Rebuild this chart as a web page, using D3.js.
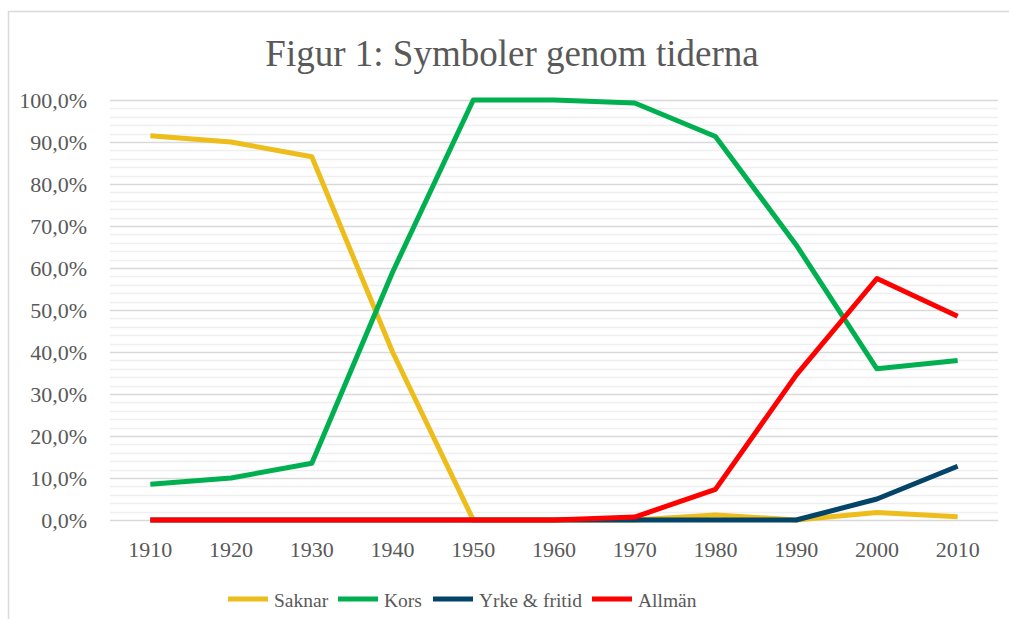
<!DOCTYPE html>
<html>
<head>
<meta charset="utf-8">
<script src="https://cdn.jsdelivr.net/npm/d3@7"></script>
<style>
  html, body { margin: 0; padding: 0; background: #fff; }
  svg { display: block; }
</style>
</head>
<body>
<div id="chart"></div>
<script>
const years = ["1910", "1920", "1930", "1940", "1950", "1960", "1970", "1980", "1990", "2000", "2010"];
const saknar = [91.5, 90.0, 86.5, 40.0, 0, 0, 0, 1.2, 0, 1.8, 0.8];
const kors = [8.5, 10.0, 13.5, 59.0, 100, 100, 99.3, 91.3, 65.5, 36.0, 38.0];
const yrke = [0, 0, 0, 0, 0, 0, 0, 0, 0, 5.0, 12.8];
const allman = [0, 0, 0, 0, 0, 0, 0.7, 7.3, 34.5, 57.5, 48.5];
const seriesNames = ["Saknar", "Kors", "Yrke & fritid", "Allmän"];
const seriesColors = ["#EDBD1C", "#00B050", "#034468", "#FF0000"];
const yTicks = [0, 10, 20, 30, 40, 50, 60, 70, 80, 90, 100];

const W = 1009, H = 619;
const m = { l: 110, r: 11, t: 100, b: 99 };
const serif = "'Liberation Serif', 'Times New Roman', serif";
const grey = "#595959";

const svg = d3.select("#chart").append("svg").attr("width", W).attr("height", H);

// outer chart frame
svg.append("rect").attr("x", 8.5).attr("y", 11.5).attr("width", W + 10).attr("height", H + 10)
  .attr("fill", "none").attr("stroke", "#d9d9d9").attr("stroke-width", 1.5);

svg.append("text").attr("x", 512).attr("y", 66).attr("text-anchor", "middle")
  .attr("font-family", serif).attr("font-size", 37).attr("fill", grey)
  .text("Figur 1: Symboler genom tiderna");

const x = d3.scaleBand().domain(years).range([m.l, W - m.r]);
const y = d3.scaleLinear().domain([0, 100]).range([H - m.b, m.t]);
const cx = (d) => x(d) + x.bandwidth() / 2;

// minor gridlines every 2%
svg.append("g").selectAll("line").data(d3.range(0, 100, 2).filter((v) => v % 10 !== 0)).join("line")
  .attr("x1", m.l).attr("x2", W - m.r)
  .attr("y1", (d) => Math.round(y(d)) + 0.5).attr("y2", (d) => Math.round(y(d)) + 0.5)
  .attr("stroke", "#efefef").attr("stroke-width", 1.3);
// major gridlines
svg.append("g").selectAll("line").data(yTicks).join("line")
  .attr("x1", m.l).attr("x2", W - m.r)
  .attr("y1", (d) => Math.round(y(d)) + 0.5).attr("y2", (d) => Math.round(y(d)) + 0.5)
  .attr("stroke", "#d9d9d9").attr("stroke-width", 1.3);

// y labels
svg.append("g").selectAll("text").data(yTicks).join("text")
  .attr("x", 87).attr("y", (d) => y(d) + 7.5).attr("text-anchor", "end")
  .attr("font-family", serif).attr("font-size", 22).attr("fill", grey)
  .text((d) => d.toFixed(1).replace(".", ",") + "%");

// x labels
svg.append("g").selectAll("text").data(years).join("text")
  .attr("x", (d) => cx(d)).attr("y", 557).attr("text-anchor", "middle")
  .attr("font-family", serif).attr("font-size", 22).attr("fill", grey)
  .text((d) => d);

const allSeries = [saknar, kors, yrke, allman];
const line = d3.line().x((d, i) => cx(years[i])).y((d) => y(d));
svg.append("g").selectAll("path").data(allSeries).join("path")
  .attr("d", line).attr("fill", "none")
  .attr("stroke", (d, i) => seriesColors[i]).attr("stroke-width", 5)
  .attr("stroke-linejoin", "round").attr("stroke-linecap", "butt");

// legend
const legX = [228, 338, 433, 592];
const leg = svg.append("g").selectAll("g").data(seriesNames).join("g")
  .attr("transform", (d, i) => `translate(${legX[i]}, 599)`);
leg.append("line").attr("x1", 0).attr("x2", 40).attr("y1", 0).attr("y2", 0)
  .attr("stroke", (d, i) => seriesColors[i]).attr("stroke-width", 5);
leg.append("text").attr("x", 46).attr("y", 7.5).attr("font-family", serif)
  .attr("font-size", 19.5).attr("fill", grey).text((d) => d);
</script>
</body>
</html>
